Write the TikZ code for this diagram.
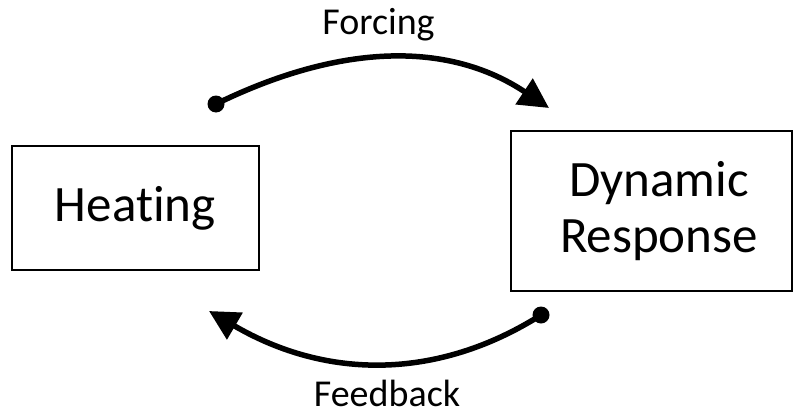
\documentclass[tikz,border=0pt]{standalone}
\usepackage{fontspec}
\setmainfont{Carlito}[Ligatures={NoCommon}]
\usetikzlibrary{arrows.meta}
\tikzset{
  box/.style={draw=black, line width=2pt, fill=white, inner sep=0pt},
  boxtext/.style={font=\fontsize{51}{56}\selectfont, align=center},
  flowlabel/.style={font=\fontsize{38}{44}\selectfont, anchor=base, inner sep=0pt},
  flow/.style={line width=5.5pt, -{Triangle[length=30pt,width=30pt]}},
  dot/.style={fill=black}
}
\begin{document}
\begin{tikzpicture}[x=1pt,y=-1pt]
  \useasboundingbox (0,0) rectangle (794,412);
  % the two boxes
  \node[box, minimum width=246.5pt, minimum height=124pt] (heat) at (135.3,208) {};
  \node[boxtext] (heattxt) at (heat.center) {Heating};
  \node[box, minimum width=281pt, minimum height=160.5pt] (dyn) at (651.2,210.8) {};
  \node[boxtext] (dyntxt) at (659,211.5) {Dynamic\\Response};
  % ends of the two curved arrows
  \coordinate (fstart) at (216,104);
  \coordinate (fend) at (549,108);
  \coordinate (bstart) at (541,315);
  \coordinate (bend) at (209,311);
  % forcing arc
  \draw[flow] (fstart) .. controls (343,42) and (450,42) .. (fend);
  \fill[dot] (fstart) circle (8.5);
  \node[flowlabel] (forcing) at (378.5,35) {Forcing};
  % feedback arc
  \draw[flow] (bstart) .. controls (438,380) and (327,380) .. (bend);
  \fill[dot] (bstart) circle (8.5);
  \node[flowlabel] (feedback) at (387,406.5) {Feedback};
\end{tikzpicture}
\end{document}
